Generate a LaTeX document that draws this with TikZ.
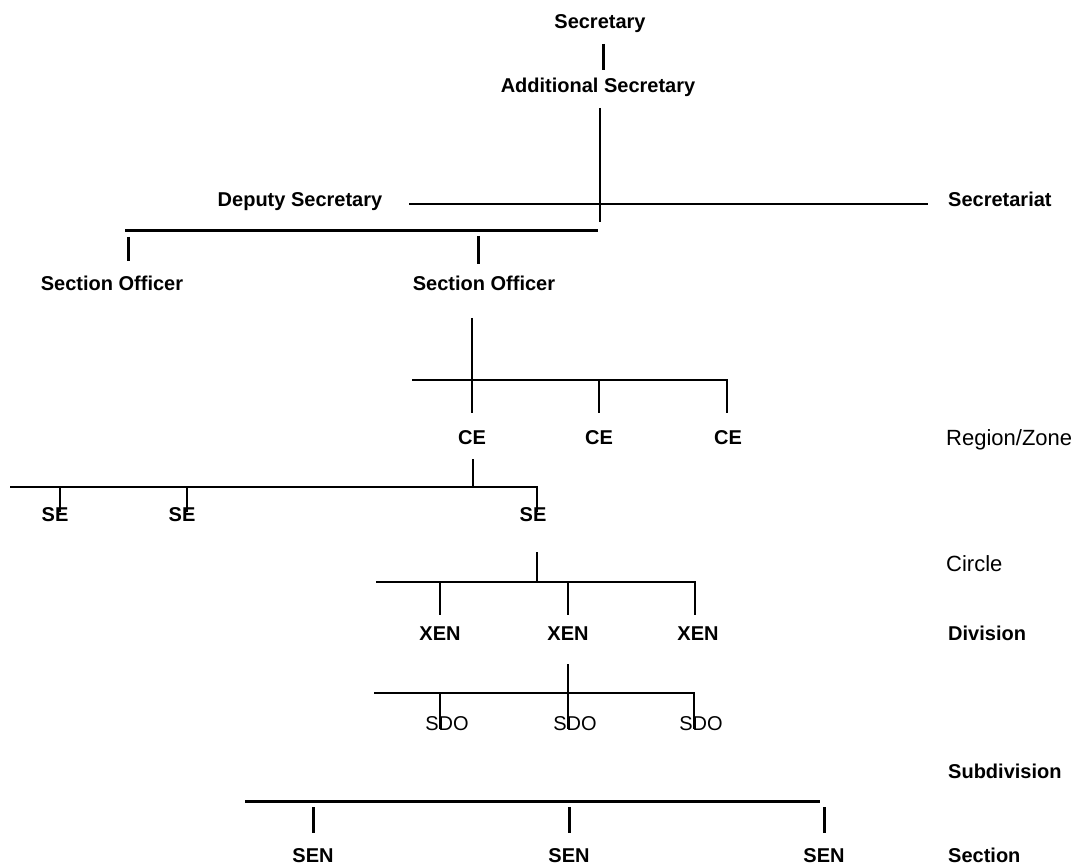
\documentclass[tikz,border=0pt]{standalone}
\usepackage{fontspec}
\setmainfont{Liberation Sans}

\tikzset{
  post/.style={font=\bfseries\fontsize{20}{24}\selectfont, inner sep=0pt, text height=14pt, text depth=0pt},
  rank/.style={post, anchor=west},
  light/.style={font=\fontsize{22}{26}\selectfont, inner sep=0pt, text height=16pt, text depth=0pt},
  light rank/.style={light, anchor=west},
  link/.style={line width=2.3pt},
  heavy/.style={line width=3pt},
  fine/.style={line width=1.4pt}
}

\begin{document}
\begin{tikzpicture}[x=1pt, y=-1pt]
        \useasboundingbox (0,0) rectangle (1078,866);

        % posts and levels
        \node[post] (sec) at (600,22) {Secretary};
        \node[post] (addl) at (598,86) {Additional Secretary};
        \node[post] (dep) at (300,200) {Deputy Secretary};
        \node[rank] (secretariat) at (948,200) {Secretariat};
        \node[post] (so1) at (112,284) {Section Officer};
        \node[post] (so2) at (484,284) {Section Officer};

        \node[post] (ce1) at (472,437) {CE};
        \node[post] (ce2) at (599,437) {CE};
        \node[post] (ce3) at (728,437) {CE};
        \node[light rank] (zone) at (946,437) {Region/Zone};

        \node[post] (se1) at (55,514) {SE};
        \node[post] (se2) at (182,514) {SE};
        \node[post] (se3) at (533,514) {SE};
        \node[light rank] (circle) at (946,563) {Circle};

        \node[post] (xen1) at (440,633) {XEN};
        \node[post] (xen2) at (568,633) {XEN};
        \node[post] (xen3) at (698,633) {XEN};
        \node[rank] (division) at (948,633) {Division};

        \node[light, font=\fontsize{20}{24}\selectfont] (sdo1) at (447,722) {SDO};
        \node[light, font=\fontsize{20}{24}\selectfont] (sdo2) at (575,722) {SDO};
        \node[light, font=\fontsize{20}{24}\selectfont] (sdo3) at (701,722) {SDO};
        \node[rank] (subdiv) at (948,771) {Subdivision};

        \node[post] (sen1) at (313,855) {SEN};
        \node[post] (sen2) at (569,855) {SEN};
        \node[post] (sen3) at (824,855) {SEN};
        \node[rank] (section) at (948,855) {Section};

        % secretariat
        \coordinate (dsjoin) at (600,222);
        \coordinate (sobarL) at (125,231);
        \coordinate (sobarR) at (598,231);
        \draw[heavy] ([xshift=3pt,yshift=-22pt]sec.center) -- ([xshift=5pt,yshift=16pt]addl.center);
        \draw[link] ([xshift=2pt,yshift=-22pt]addl.center) -- (dsjoin);
        \draw[fine] ([xshift=27pt,yshift=-4pt]dep.east) -- ([xshift=-20pt,yshift=-4pt]secretariat.west);
        \draw[heavy] (sobarL) -- (sobarR);
        \draw[heavy] ([xshift=16pt,yshift=47pt]so1.center) -- ([xshift=16pt,yshift=23pt]so1.center);
        \draw[heavy] ([xshift=-6pt,yshift=48pt]so2.center) -- ([xshift=-6pt,yshift=20pt]so2.center);

        % region / zone
        \coordinate (cebarL) at (412,380);
        \coordinate (cebarR) at (727,380);
        \draw[link] ([xshift=-12pt,yshift=-34pt]so2.center) -- ([yshift=24pt]ce1.center);
        \draw[link] (cebarL) -- (cebarR) -- ([xshift=-1pt,yshift=24pt]ce3.center);
        \draw[link] (ce2 |- cebarL) -- ([yshift=24pt]ce2.center);

        % circle
        \coordinate (sebarL) at (10,487);
        \coordinate (sebarR) at (537,487);
        \draw[link] ([xshift=1pt,yshift=-22pt]ce1.center) -- ([xshift=1pt]ce1.center |- sebarL);
        \draw[link] (sebarL) -- (sebarR) -- ([xshift=4pt,yshift=2pt]se3.center);
        \draw[link] ([xshift=5pt]se1.center |- sebarL) -- ([xshift=5pt,yshift=2pt]se1.center);
        \draw[link] ([xshift=5pt]se2.center |- sebarL) -- ([xshift=5pt,yshift=2pt]se2.center);

        % division
        \coordinate (xenbarL) at (376,582);
        \coordinate (xenbarR) at (695,582);
        \draw[link] ([xshift=4pt,yshift=-38pt]se3.center) -- ([xshift=4pt]se3.center |- xenbarL);
        \draw[link] (xenbarL) -- (xenbarR) -- ([xshift=-3pt,yshift=18pt]xen3.center);
        \draw[link] (xen1 |- xenbarL) -- ([yshift=18pt]xen1.center);
        \draw[link] (xen2 |- xenbarL) -- ([yshift=18pt]xen2.center);

        % subdivision
        \coordinate (sdobarL) at (374,693);
        \coordinate (sdobarR) at (694,693);
        \draw[link] ([yshift=-31pt]xen2.center) -- (xen2 |- sdobarL);
        \draw[link] (sdobarL) -- (sdobarR) -- ([xshift=-7pt,yshift=-7pt]sdo3.center);
        \draw[link] ([xshift=-7pt]sdo1.center |- sdobarL) -- ([xshift=-7pt,yshift=-7pt]sdo1.center);
        \draw[link] ([xshift=-7pt]sdo2.center |- sdobarL) -- ([xshift=-7pt,yshift=-7pt]sdo2.center);

        % section
        \coordinate (senbarL) at (245,801);
        \coordinate (senbarR) at (820,801);
        \draw[heavy] (senbarL) -- (senbarR);
        \draw[heavy] ([yshift=48pt]sen1.center) -- ([yshift=22pt]sen1.center);
        \draw[heavy] ([yshift=48pt]sen2.center) -- ([yshift=22pt]sen2.center);
        \draw[heavy] ([yshift=48pt]sen3.center) -- ([yshift=22pt]sen3.center);
\end{tikzpicture}
\end{document}
